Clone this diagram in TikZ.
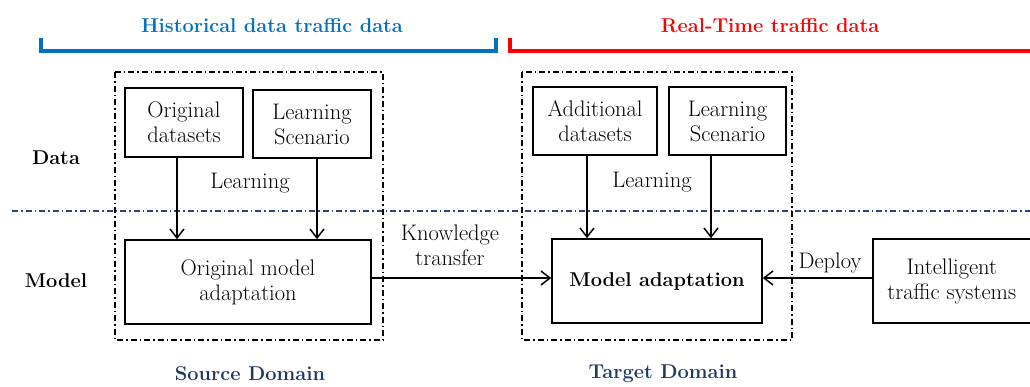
\documentclass[tikz,border=0pt]{standalone}
\usepackage{fontspec}
\usetikzlibrary{arrows.meta}
\definecolor{hblue}{RGB}{0,112,192}
\definecolor{rred}{RGB}{255,0,0}
\definecolor{dnavy}{RGB}{31,56,100}
\definecolor{lblue}{RGB}{40,70,120}
\newcommand{\regfont}{\fontsize{22.5}{25}\selectfont}
\newcommand{\boldfnt}{\fontsize{20}{25}\selectfont\bfseries}
\tikzset{
  box/.style={draw, line width=1.6pt, align=center, inner sep=0pt, font=\regfont},
  lab/.style={align=center, inner sep=0pt, font=\regfont},
  blab/.style={inner sep=0pt, font=\boldfnt},
  dom/.style={inner sep=0pt, text=dnavy, font=\boldfnt},
  ddbox/.style={draw, line width=1.3pt, dash pattern=on 6pt off 3pt on 1.5pt off 3pt},
  conn/.style={line width=1.5pt, -{Straight Barb[length=9pt,width=14pt,line width=1.5pt]}},
  bracket/.style={line width=3.2pt}
}
\begin{document}
\begin{tikzpicture}[x=1pt,y=-1pt]
\useasboundingbox (0,0) rectangle (1030,386);
% brackets
\draw[bracket, hblue] (41,38) -- (41,51) -- (496,51) -- (496,38);
\node[blab, text=hblue] (htitle) at (272,26) {Historical data traffic data};
\draw[bracket, rred] (510,38) -- (510,51) -- (1040,51);
\node[blab, text=rred] (rtitle) at (770,26) {Real-Time traffic data};
% separator
\draw[line width=1.3pt, lblue, dash pattern=on 6pt off 3pt on 1.5pt off 3pt] (12,211) -- (1030,211);
% dash-dot domain boxes
\draw[ddbox] (115,72) rectangle (383,340);
\draw[ddbox] (522,72) rectangle (792,340);
% row labels
\node[blab] (data) at (56,158) {Data};
\node[blab] (model) at (56,281) {Model};
% source nodes
\node[box, minimum width=118pt, minimum height=69pt] (od) at (184,122.5) {Original\\datasets};
\node[box, minimum width=118pt, minimum height=68pt] (ls1) at (312,124) {Learning\\Scenario};
\node[box, minimum width=246pt, minimum height=84pt] (om) at (248,282) {Original model\\adaptation};
% target nodes
\node[box, minimum width=124pt, minimum height=68pt] (ad) at (595,121) {Additional\\datasets};
\node[box, minimum width=117pt, minimum height=68pt] (ls2) at (727.5,121) {Learning\\Scenario};
\node[box, minimum width=210pt, minimum height=84pt, font=\boldfnt] (ma) at (657,281) {Model adaptation};
\node[box, minimum width=170pt, minimum height=84pt, anchor=west] (its) at (872,281) {\hspace*{-12pt}Intelligent\\\hspace*{-12pt}traffic systems};
% labels
\node[lab] (learn1) at (250,183) {Learning};
\node[lab] (learn2) at (652,182) {Learning};
\node[lab] (kt) at (450,245) {Knowledge\\transfer};
\node[lab] (dep) at (830,263) {Deploy};
\node[dom] (sd) at (250,374) {Source Domain};
\node[dom] (td) at (663,374) {Target Domain};
% connectors
\draw[conn] (od.south -| 177,0) -- (om.north -| 177,0);
\draw[conn] (ls1.south -| 317,0) -- (om.north -| 317,0);
\draw[conn] (ad.south -| 587,0) -- (ma.north -| 587,0);
\draw[conn] (ls2.south -| 711,0) -- (ma.north -| 711,0);
\draw[conn] (om.east |- 0,278) -- (ma.west |- 0,278);
\draw[conn] (its.west |- 0,278) -- (ma.east |- 0,278);
\end{tikzpicture}
\end{document}
